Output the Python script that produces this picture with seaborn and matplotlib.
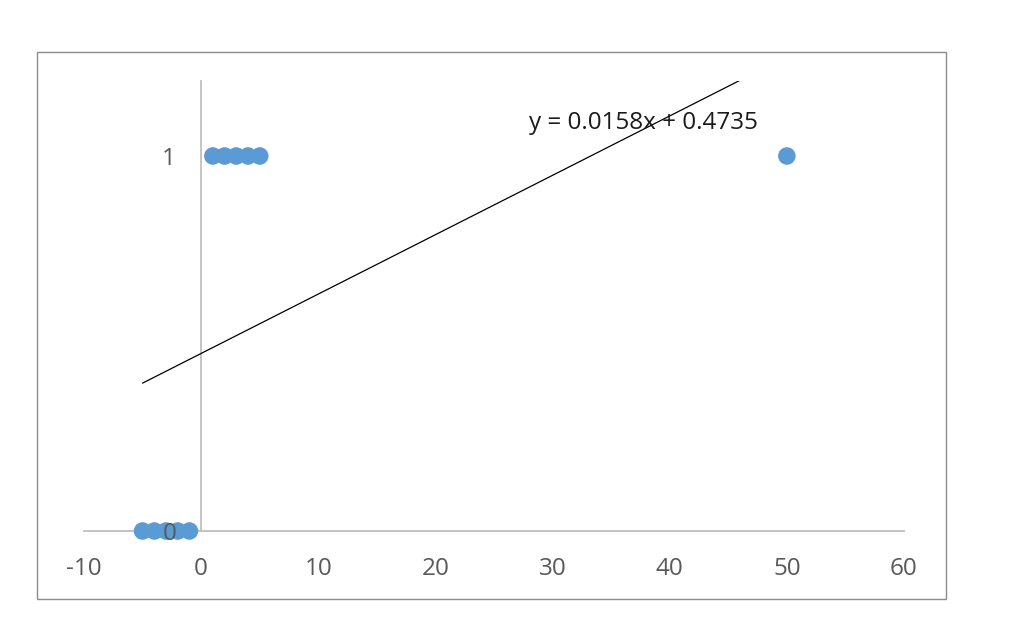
import numpy as np
import pandas as pd
import seaborn as sns
import matplotlib.pyplot as plt
from matplotlib.patches import Rectangle

x_vals = [-5, -4, -3, -2, -1, 1, 2, 3, 4, 5, 50]
y_vals = [0, 0, 0, 0, 0, 1, 1, 1, 1, 1, 1]
x_ticks = [-10, 0, 10, 20, 30, 40, 50, 60]
y_ticks = [0, 1]
eq_label = "y = 0.0158x + 0.4735"

df = pd.DataFrame({"x": x_vals, "y": y_vals})

sns.set_style("white")
plt.rcParams['font.family'] = ['Open Sans', 'DejaVu Sans']
plt.rcParams['axes.unicode_minus'] = False

fig = plt.figure(figsize=(10.09, 6.28), dpi=100)
ax = fig.add_axes([84 / 1009, 1 - 531 / 628, 820 / 1009, 450 / 628])

# outer chart border
fig.patches.append(Rectangle((37 / 1009, 1 - 599 / 628), 909 / 1009, 547 / 628,
                             transform=fig.transFigure, fill=False,
                             edgecolor="#8c8c8c", linewidth=1))

# faint line series hidden behind the y=1 points
ones = df[(df.y == 1) & (df.x <= 5)]
ax.plot(ones.x, ones.y + 0.014, color="#ED7D31", lw=1, zorder=1)

sns.scatterplot(data=df, x="x", y="y", ax=ax, color="#5B9BD5", s=160,
                edgecolor="none", zorder=3, clip_on=False)
sns.regplot(data=df, x="x", y="y", ax=ax, scatter=False, ci=None, truncate=True,
            line_kws={"color": "black", "lw": 0.9, "zorder": 2})

ax.set_xlim(-10, 60)
ax.set_ylim(0, 1.2)
ax.set_xticks(x_ticks)
ax.set_yticks(y_ticks)
ax.set_xlabel("")
ax.set_ylabel("")

for s in ["top", "right"]:
    ax.spines[s].set_visible(False)
ax.spines["left"].set_position(("data", 0))
ax.spines["bottom"].set_position(("data", 0))
for s in ["left", "bottom"]:
    ax.spines[s].set_color("#bfbfbf")
    ax.spines[s].set_linewidth(1.3)
    ax.spines[s].set_zorder(0)

ax.tick_params(axis="x", length=0, pad=18.5, labelsize=17.5, labelcolor="#595959")
ax.tick_params(axis="y", length=0, pad=18, labelsize=17.5, labelcolor="#595959")
ax.yaxis.set_zorder(4)
ax.patch.set_alpha(0)

ax.text(28.0, 1.088, eq_label, ha="left", va="center", fontsize=17.5, color="#1a1a1a")

fig.savefig("out.png", dpi=100)
